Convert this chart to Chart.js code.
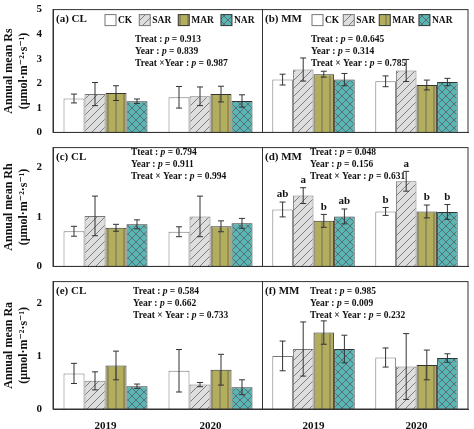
<!DOCTYPE html>
<html>
<head>
<meta charset="utf-8">
<script src="https://cdn.jsdelivr.net/npm/chart.js@4"></script>
<style>
  body { margin: 0; background: #fff; width: 474px; height: 429px; position: relative; overflow: hidden; }
  canvas { position: absolute; }
</style>
</head>
<body>
<canvas id="c1"></canvas><canvas id="c2"></canvas>
<canvas id="c3"></canvas><canvas id="c4"></canvas>
<canvas id="c5"></canvas><canvas id="c6"></canvas>
<script>
const years = ["2019", "2020"];
const treatments = ["CK", "SAR", "MAR", "NAR"];

// values per treatment: [2019, 2020]
const rsCL = [[1.38, 1.43], [1.56, 1.47], [1.60, 1.56], [1.27, 1.28]];
const rsCLErr = [[0.18, 0.44], [0.47, 0.38], [0.30, 0.32], [0.09, 0.25]];
const rsMM = [[2.15, 2.08], [2.56, 2.52], [2.37, 1.93], [2.15, 2.05]];
const rsMMErr = [[0.22, 0.22], [0.47, 0.45], [0.12, 0.20], [0.25, 0.15]];
const rhCL = [[0.71, 0.70], [1.02, 1.01], [0.78, 0.81], [0.85, 0.87]];
const rhCLErr = [[0.10, 0.10], [0.40, 0.41], [0.07, 0.11], [0.09, 0.10]];
const rhMM = [[1.15, 1.11], [1.43, 1.72], [0.92, 1.11], [1.01, 1.10]];
const rhMMErr = [[0.15, 0.08], [0.16, 0.20], [0.13, 0.13], [0.15, 0.15]];
const rhMMLetters = [["ab", "b"], ["a", "a"], ["b", "b"], ["ab", "b"]];
const raCL = [[0.67, 0.72], [0.53, 0.46], [0.82, 0.74], [0.43, 0.41]];
const raCLErr = [[0.19, 0.40], [0.17, 0.04], [0.27, 0.29], [0.04, 0.14]];
const raMM = [[1.00, 0.97], [1.13, 0.80], [1.44, 0.83], [1.13, 0.96]];
const raMMErr = [[0.28, 0.18], [0.51, 0.62], [0.22, 0.28], [0.26, 0.08]];

const FONT = "'Liberation Serif', 'DejaVu Serif', serif";

function makePattern(bg, type) {
  const c = document.createElement('canvas');
  c.width = 8; c.height = 8;
  const g = c.getContext('2d');
  g.fillStyle = bg; g.fillRect(0, 0, 8, 8);
  g.strokeStyle = '#555'; g.lineWidth = 0.7;
  g.beginPath();
  if (type === 'diag') { g.moveTo(0, 8); g.lineTo(8, 0); g.moveTo(-4, 4); g.lineTo(4, -4); g.moveTo(4, 12); g.lineTo(12, 4); }
  if (type === 'vert') { g.moveTo(4, 0); g.lineTo(4, 8); }
  if (type === 'cross') { g.moveTo(0, 0); g.lineTo(8, 8); g.moveTo(0, 8); g.lineTo(8, 0); }
  if (type !== 'none') g.stroke();
  return g.createPattern(c, 'repeat');
}
const fills = [
  makePattern('#ffffff', 'none'),
  makePattern('#dedede', 'diag'),
  makePattern('#b3ae5e', 'vert'),
  makePattern('#5ab5b5', 'cross')
];
const borders = ['#777', '#777', '#333', '#333'];

// draws "Name : p = 0.123" with italic p
function statLine(ctx, s, x, y) {
  const parts = s.split('p =');
  ctx.font = 'bold 9.5px ' + FONT;
  ctx.fillText(parts[0], x, y);
  x += ctx.measureText(parts[0]).width;
  ctx.font = 'italic bold 9.5px ' + FONT;
  ctx.fillText('p', x, y);
  x += ctx.measureText('p').width;
  ctx.font = 'bold 9.5px ' + FONT;
  ctx.fillText(' =' + parts[1], x, y);
}

function panel(id, box, vals, errs, opts) {
  const el = document.getElementById(id);
  el.style.left = box.x + 'px'; el.style.top = box.y + 'px';
  el.width = box.w; el.height = box.h;
  el.style.width = box.w + 'px'; el.style.height = box.h + 'px';

  const extras = {
    id: 'extras',
    afterDatasetsDraw(chart) {
      const ctx = chart.ctx, a = chart.chartArea, y = chart.scales.y;
      ctx.save();
      chart.data.datasets.forEach((ds, di) => {
        chart.getDatasetMeta(di).data.forEach((bar, i) => {
          const v = vals[di][i], e = errs[di][i];
          const top = y.getPixelForValue(v + e), bot = y.getPixelForValue(v - e);
          ctx.strokeStyle = '#333'; ctx.lineWidth = 1;
          ctx.beginPath();
          ctx.moveTo(bar.x, top); ctx.lineTo(bar.x, bot);
          ctx.moveTo(bar.x - 3, top); ctx.lineTo(bar.x + 3, top);
          ctx.moveTo(bar.x - 3, bot); ctx.lineTo(bar.x + 3, bot);
          ctx.stroke();
          if (opts.letters) {
            ctx.fillStyle = '#111'; ctx.font = 'bold 11px ' + FONT;
            ctx.textAlign = 'center'; ctx.textBaseline = 'bottom';
            ctx.fillText(opts.letters[di][i], bar.x, top - 2);
          }
        });
      });
      ctx.strokeStyle = '#333'; ctx.lineWidth = 1;
      ctx.strokeRect(a.left, a.top, a.right - a.left, a.bottom - a.top);
      ctx.fillStyle = '#111'; ctx.font = 'bold 11px ' + FONT;
      ctx.textAlign = 'left'; ctx.textBaseline = 'middle';
      ctx.fillText(opts.label, a.left + 3, a.top + 10);
      opts.stats.forEach((s, k) => {
        statLine(ctx, s, a.left + opts.statX, a.top + opts.statY + k * 12);
      });
      if (opts.legend) {
        let lx = a.left + opts.legendX;
        ctx.font = 'bold 9.5px ' + FONT;
        treatments.forEach((t, k) => {
          ctx.fillStyle = fills[k];
          ctx.fillRect(lx, a.top + 5, 11, 11);
          ctx.strokeStyle = borders[k];
          ctx.strokeRect(lx, a.top + 5, 11, 11);
          ctx.fillStyle = '#111';
          ctx.fillText(t, lx + 13, a.top + 11);
          lx += 13 + ctx.measureText(t).width + opts.legendGap;
        });
      }
      ctx.restore();
    }
  };

  return new Chart(el, {
    type: 'bar',
    data: {
      labels: years,
      datasets: treatments.map((t, k) => ({
        label: t, data: vals[k],
        backgroundColor: fills[k], borderColor: borders[k], borderWidth: 1,
        categoryPercentage: 0.8, barPercentage: 1
      }))
    },
    options: {
      responsive: false, animation: false,
      layout: { padding: { top: box.pt, right: box.pr || 0 } },
      plugins: { legend: { display: false }, tooltip: { enabled: false } },
      scales: {
        x: {
          grid: { display: false },
          border: { color: '#333' },
          ticks: { display: opts.showX, color: '#111', font: { family: FONT, weight: 'bold', size: 11 } },
          afterFit(s) { s.height = box.xh; }
        },
        y: {
          min: 0, max: opts.max,
          ticks: {
            stepSize: 1, color: opts.showY ? '#111' : 'rgba(0,0,0,0)',
            font: { family: FONT, weight: 'bold', size: 11 },
            callback: v => (v % 1 === 0 ? v : '')
          },
          grid: { display: false },
          border: { color: '#333' },
          title: { display: opts.showY, text: opts.title, color: '#111', font: { family: FONT, weight: 'bold', size: 12 }, padding: 2 },
          afterFit(s) { s.width = opts.showY ? 53 : 0; }
        }
      }
    },
    plugins: [extras]
  });
}

const unit = '(\u03bcmol\u00b7m\u207b\u00b2\u00b7s\u207b\u00b9)';
const L = { x: 0, w: 263 }, R = { x: 262, w: 212, pr: 6 };
const row1 = { y: 0, h: 142, pt: 7, xh: 2 };
const row2 = { y: 138, h: 138, pt: 4, xh: 2 };
const row3 = { y: 272, h: 157, pt: 5, xh: 20 };

panel('c1', { ...L, ...row1 }, rsCL, rsCLErr, {
  label: '(a) CL', max: 5, showY: true, showX: false, title: ['Annual mean Rs', unit],
  stats: ['Treat : p = 0.913', 'Year : p = 0.839', 'Treat \u00d7Year : p = 0.987'], statX: 82, statY: 30,
  legend: true, legendX: 52, legendGap: 7
});
panel('c2', { ...R, ...row1 }, rsMM, rsMMErr, {
  label: '(b) MM', max: 5, showY: false, showX: false,
  stats: ['Treat : p = 0.0.645', 'Year : p = 0.314', 'Treat \u00d7 Year : p = 0.785'], statX: 49, statY: 30,
  legend: true, legendX: 50, legendGap: 4
});
panel('c3', { ...L, ...row2 }, rhCL, rhCLErr, {
  label: '(c) CL', max: 2.4, showY: true, showX: false, title: ['Annual mean Rh', unit],
  stats: ['Tteat : p = 0.794', 'Year : p = 0.911', 'Treat \u00d7 Year : p = 0.994'], statX: 78, statY: 5
});
panel('c4', { ...R, ...row2 }, rhMM, rhMMErr, {
  label: '(d) MM', max: 2.4, showY: false, showX: false, letters: rhMMLetters,
  stats: ['Treat : p = 0.048', 'Year : p = 0.156', 'Treat \u00d7 Year : p = 0.631'], statX: 48, statY: 5
});
panel('c5', { ...L, ...row3 }, raCL, raCLErr, {
  label: '(e) CL', max: 2.4, showY: true, showX: true, title: ['Annual mean Ra', unit],
  stats: ['Treat : p = 0.584', 'Year : p = 0.662', 'Treat \u00d7 Year : p = 0.733'], statX: 80, statY: 10
});
panel('c6', { ...R, ...row3 }, raMM, raMMErr, {
  label: '(f) MM', max: 2.4, showY: false, showX: true,
  stats: ['Treat : p = 0.985', 'Year : p = 0.009', 'Treat \u00d7 Year : p = 0.232'], statX: 48, statY: 10
});
</script>
</body>
</html>
